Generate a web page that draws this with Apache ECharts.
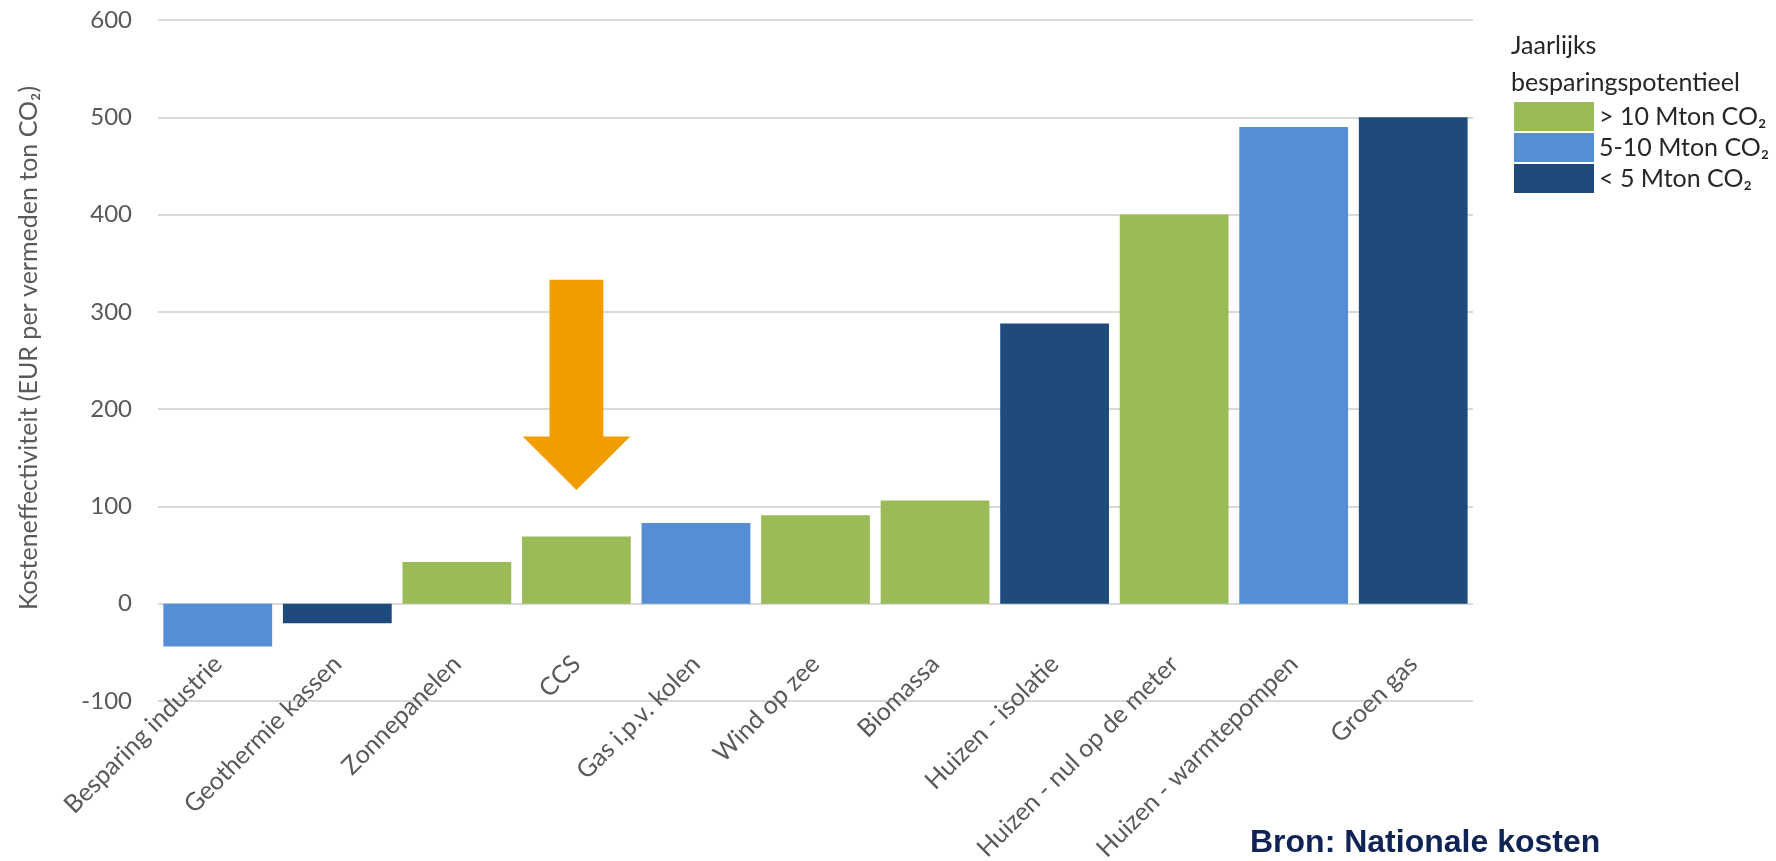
<!DOCTYPE html>
<html><head><meta charset="utf-8">
<script src="https://cdn.jsdelivr.net/npm/echarts@6/dist/echarts.min.js"></script>
<style>html,body{margin:0;padding:0;background:#fff}#c{width:1776px;height:861px}</style>
</head><body><div id="c"></div>
<script>
const categories = ['Besparing industrie','Geothermie kassen','Zonnepanelen','CCS','Gas i.p.v. kolen','Wind op zee','Biomassa','Huizen - isolatie','Huizen - nul op de meter','Huizen - warmtepompen','Groen gas'];
const values = [-44, -20, 43, 69, 83, 91, 106, 288, 400, 490, 500];
const classOf = ['mid','low','high','high','mid','high','high','low','high','mid','low'];
const classNames = {high:'> 10 Mton CO₂', mid:'5-10 Mton CO₂', low:'< 5 Mton CO₂'};
const classColors = {high:'#9BBB59', mid:'#558ED5', low:'#1F4A7C'};
const classOrder = ['high','mid','low'];
const yTicks = {min:-100, max:600, interval:100};
const yTitle = 'Kosteneffectiviteit (EUR per vermeden ton CO₂)';
// arrow annotation (value units on CCS category)
const arrowCategory = 'CCS';
const arrowTop = 333, arrowNeck = 172, arrowTip = 117;

const chart = echarts.init(document.getElementById('c'));
const font = 'Lato, "Open Sans", sans-serif';
const series = classOrder.map(k => ({
  name: classNames[k], type:'bar', barGap:'-100%', barCategoryGap:'9%',
  itemStyle:{color:classColors[k]},
  data: values.map((v,i)=> classOf[i]===k ? v : null)
}));
chart.setOption({
  animation:false,
  title:{text:'Jaarlijks\nbesparingspotentieel', left:1506, top:22,
    textStyle:{fontFamily:font, fontSize:25, fontWeight:'normal', color:'#262626', lineHeight:37}},
  legend:{orient:'vertical', left:1509, top:97, itemWidth:80, itemHeight:29, itemGap:2,
    icon:'rect', textStyle:{fontFamily:font, fontSize:25, color:'#262626'},
    data: classOrder.map(k=>classNames[k])},
  grid:{left:158, right:303, top:20, bottom:160, outerBoundsMode:'none', containLabel:false},
  xAxis:{type:'category', data:categories,
    axisLine:{show:false, onZero:false},
    axisTick:{show:false},
    axisLabel:{rotate:45, margin:-41, interval:0, fontFamily:font, fontSize:25, color:'#595959'}},
  yAxis:{type:'value', min:yTicks.min, max:yTicks.max, interval:yTicks.interval,
    axisLine:{show:false}, axisTick:{show:false},
    axisLabel:{fontFamily:font, fontSize:24, color:'#595959', margin:26},
    splitLine:{lineStyle:{color:'#d9d9d9', width:2}}},
  series
});
// arrow via library scales
const ci = categories.indexOf(arrowCategory);
const p0 = chart.convertToPixel({xAxisIndex:0,yAxisIndex:0},[ci, arrowTop]);
const p1 = chart.convertToPixel({xAxisIndex:0,yAxisIndex:0},[ci, arrowNeck]);
const p2 = chart.convertToPixel({xAxisIndex:0,yAxisIndex:0},[ci, arrowTip]);
const band = chart.convertToPixel({xAxisIndex:0,yAxisIndex:0},[ci+1, 0])[0] - p0[0];
const sw = band*0.225, hw = band*0.45, cx = p0[0];
chart.setOption({graphic:[
  {type:'polygon', shape:{points:[[cx-sw,p0[1]],[cx+sw,p0[1]],[cx+sw,p1[1]],[cx+hw,p1[1]],[cx,p2[1]],[cx-hw,p1[1]],[cx-sw,p1[1]]]},
   style:{fill:'#F39C00'}},
  {type:'text', x:29, y:348, rotation:Math.PI/2,
   style:{text:yTitle, fill:'#595959', font:'25px Lato, "Open Sans", sans-serif', align:'center', verticalAlign:'middle'}},
  {type:'text', left:1250, top:827, style:{text:'Bron: Nationale kosten', fill:'#0F2455',
    font:'bold 32px "Liberation Sans", Arial, sans-serif'}}
]});
</script></body></html>
